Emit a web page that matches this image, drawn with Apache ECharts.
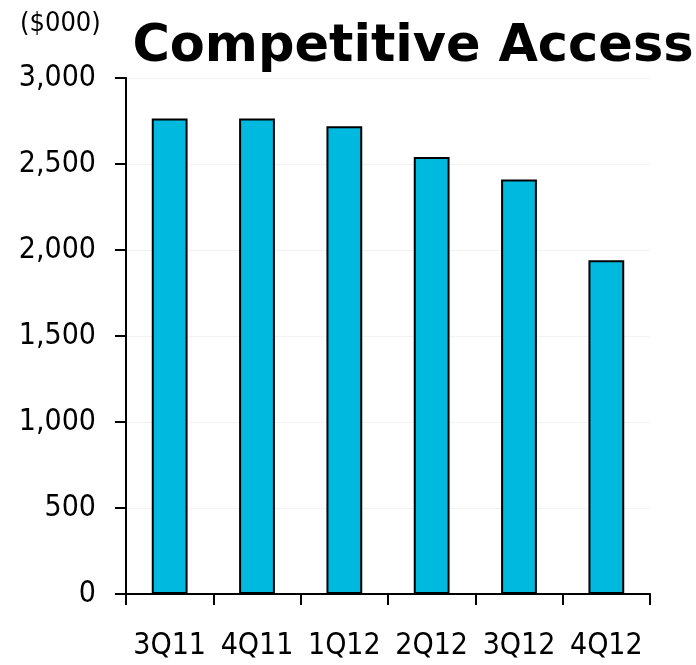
<!DOCTYPE html>
<html>
<head>
<meta charset="utf-8">
<script src="https://cdn.jsdelivr.net/npm/echarts@6/dist/echarts.min.js"></script>
<style>
  html, body { margin: 0; padding: 0; background: #fff; }
  #chart { width: 696px; height: 665px; }
</style>
</head>
<body>
<div id="chart"></div>
<script>
// Quarterly competitive access revenue, in thousands of dollars
const quarters = ['3Q11', '4Q11', '1Q12', '2Q12', '3Q12', '4Q12'];
const revenue = [2765, 2765, 2720, 2540, 2410, 1940];
const yTicks = { min: 0, max: 3000, interval: 500 };

const labelFont = 'Tahoma, "DejaVu Sans Condensed", "DejaVu Sans", sans-serif';
const titleFont = 'Verdana, "DejaVu Sans", sans-serif';
const chart = echarts.init(document.getElementById('chart'), null, { renderer: 'canvas' });

chart.setOption({
  animation: false,
  backgroundColor: '#ffffff',
  title: [
    {
      text: 'Competitive Access',
      left: 408, top: 17, textAlign: 'center',
      textStyle: { fontFamily: titleFont, fontWeight: 'bold', fontSize: 51, color: '#000' }
    },
    {
      text: '($000)',
      left: 15, top: 5,
      textStyle: { fontFamily: labelFont, fontWeight: 'normal', fontSize: 27, color: '#000' }
    }
  ],
  grid: { left: 126, right: 46, top: 78, bottom: 71, containLabel: false },
  xAxis: {
    type: 'category',
    data: quarters,
    axisLine: { lineStyle: { color: '#000', width: 2 } },
    axisTick: { show: true, interval: 0, length: 11, lineStyle: { color: '#000', width: 2 } },
    axisLabel: { interval: 0, color: '#000', fontFamily: labelFont, fontSize: 30, margin: 37 }
  },
  yAxis: {
    type: 'value',
    min: yTicks.min, max: yTicks.max, interval: yTicks.interval,
    axisLine: { show: true, lineStyle: { color: '#000', width: 2 } },
    axisTick: { show: true, length: 11, lineStyle: { color: '#000', width: 2 } },
    axisLabel: {
      color: '#000', fontFamily: labelFont, fontSize: 30, margin: 30,
      formatter: v => v.toLocaleString('en-US')
    },
    splitLine: { show: true, lineStyle: { color: '#f2f2f2', width: 1 } }
  },
  series: [{
    type: 'bar',
    data: revenue,
    barWidth: '41%',
    itemStyle: { color: '#00B9DF', borderColor: '#000', borderWidth: 2 }
  }]
});
</script>
</body>
</html>
